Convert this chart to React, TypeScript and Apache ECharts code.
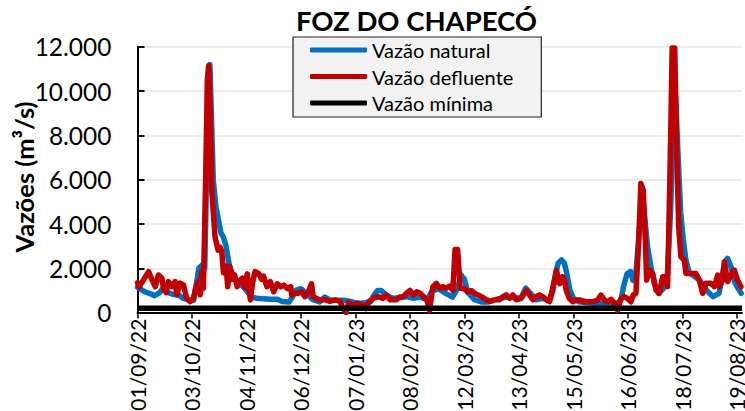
import React, { useEffect, useRef } from "react";
import * as echarts from "echarts";

// Day index counted from 01/09/22
const xTickLabels = [
  "01/09/22", "03/10/22", "04/11/22", "06/12/22", "07/01/23", "08/02/23",
  "12/03/23", "13/04/23", "15/05/23", "16/06/23", "18/07/23", "19/08/23",
];
const yTickValues = [0, 2000, 4000, 6000, 8000, 10000, 12000];
const yTickLabels = ["0", "2.000", "4.000", "6.000", "8.000", "10.000", "12.000"];

const seriesNames = ["Vazão natural", "Vazão defluente", "Vazão mínima"];

const vazaoNatural: [number, number][] = [
  [0,1150],[2,1050],[4,950],[7,870],[10,760],[13,900],[15,1100],[18,900],[21,820],[24,800],
  [27,640],[30,570],[33,560],[35,1500],[36,2000],[38,2150],[39.5,2000],[41,8000],[42.5,11200],
  [44.5,6000],[46,4800],[47.5,4200],[49,3600],[50.5,3400],[52,3000],[54,2100],[56,1700],
  [58,1470],[60,1300],[62,1170],[64,1000],[66,800],[68,680],[70,650],[74,620],[78,600],
  [82,600],[85,500],[89,480],[91,700],[93,1000],[96,1080],[98,950],[100,800],[103,580],
  [107,480],[110,700],[113,560],[117,560],[121,560],[125,500],[128,450],[131,420],[134,450],
  [137,500],[139,800],[141,1000],[143,1000],[146,800],[150,640],[154,680],[158,720],[162,650],
  [166,700],[170,580],[173,980],[177,1070],[181,870],[185,700],[188,1100],[190,1700],[192,1500],
  [194,900],[198,580],[202,480],[206,480],[209,560],[213,640],[217,700],[221,700],[225,640],
  [228,1100],[231,850],[234,580],[238,640],[242,560],[244,1000],[245.5,1700],[247,2230],
  [249,2380],[250.7,2230],[252,1800],[254,1000],[256,640],[259,490],[263,450],[268,420],
  [273,420],[278,420],[282,430],[284,600],[285.5,1200],[287.5,1750],[289.5,1850],[291,1450],
  [292.5,1600],[294.5,3500],[296.5,5400],[298,4200],[299.5,3000],[301.5,2070],[303.5,1320],
  [306,870],[309,1100],[311,1450],[313,4500],[315,9000],[316,9800],[317.5,7000],[319,4500],
  [320.5,3300],[322,2400],[324,1800],[326,1700],[330,1470],[334,1020],[338,720],[341.5,870],
  [343.5,1700],[345,2300],[346.5,2450],[348.5,2070],[351,1320],[354.5,870],
];

const vazaoDefluente: [number, number][] = [
  [0,1350],[1,1150],[2.5,1350],[4.5,1600],[6.5,1850],[8.4,1500],[10.4,1170],[12.3,1700],
  [14.3,1550],[15.3,1100],[16.8,900],[18.2,1400],[20.1,1170],[22.1,1400],[23.1,800],[25,1330],
  [27,1250],[28.9,640],[30.9,500],[32.8,640],[34.4,1170],[35.8,1400],[36.8,800],[37.7,1850],
  [38.7,1100],[40,6000],[41,10500],[41.8,11150],[42.6,9500],[43.6,5500],[45.5,3430],[47.3,2820],
  [48.5,2950],[49.5,2750],[50.5,1800],[52,2100],[53,1170],[54.3,2070],[55.5,1500],[57,1700],
  [58.5,1170],[60,1450],[61.5,1550],[63,1150],[64.5,1750],[65.5,1000],[66.3,570],[67.5,1300],
  [69,1850],[71,1780],[73,1500],[74,1650],[76,1170],[78,1400],[80,940],[82,1300],[84,1170],
  [86,1240],[88,1090],[90,1170],[90.5,800],[92.4,870],[94.4,870],[96.3,940],[98.3,720],
  [100.3,940],[102.2,1300],[103.2,720],[105,640],[107,580],[110,580],[113,500],[116,580],
  [119,500],[121,150],[122.5,0],[124,450],[127,300],[129,420],[132,350],[134,180],[136,500],
  [138.4,640],[141.3,720],[144.2,640],[146.2,800],[148.2,580],[152,580],[154,700],[156,720],
  [158,870],[160,1000],[162,790],[164,940],[166,870],[168,720],[170,580],[171.5,100],[172.5,645],
  [173.5,1170],[175.5,1320],[177.5,1100],[179.4,1170],[181.3,1100],[183.3,1200],[185.2,1000],
  [186.5,2850],[188,2850],[189.5,1100],[192,1070],[194,940],[196,1000],[198,870],[200,800],
  [202,720],[205,580],[207,500],[210,580],[212.6,580],[214.6,720],[216.5,800],[218.5,645],
  [220.4,800],[222.4,580],[225.3,645],[228.3,1000],[230.2,800],[232.2,580],[234.1,720],
  [236.1,800],[238.1,720],[240,580],[242,500],[244,1170],[246,1900],[248,1300],[249.7,1620],
  [250.7,1470],[251.7,1020],[253.6,640],[255.6,490],[257.5,570],[259.5,570],[263.4,490],
  [267.3,490],[270.2,570],[272.2,790],[274.2,570],[276.1,490],[278.1,600],[280,420],[282,100],
  [283.9,640],[285.9,720],[287.8,640],[289.8,490],[291.1,790],[292.7,870],[294.2,3000],
  [295.6,5830],[297,5530],[298.2,3270],[299,1470],[300.5,1920],[302.5,1770],[304.5,1020],
  [306.4,870],[308.4,1620],[310,1620],[311.3,1170],[312.7,6300],[314,11950],[315.5,11950],
  [316.5,7800],[317.8,3880],[319.1,2520],[321.1,2370],[322.1,1770],[324,1770],[326,1770],
  [327.9,1770],[329.9,1470],[331.9,870],[333.8,1320],[336.8,1320],[338.7,1170],[340.7,1690],
  [341.7,1170],[343.6,1470],[344.6,2300],[346.6,1400],[348.5,1690],[350.5,1920],[352.4,1470],
  [354.4,1170],
];

const vazaoMinima: [number, number][] = [
  [0, 200],
  [355, 200],
];

const FONT = "Lato";

export default function App() {
  const ref = useRef<HTMLDivElement>(null);
  useEffect(() => {
    if (!ref.current) return;
    const chart = echarts.init(ref.current, null, { renderer: "svg" });
    chart.setOption({
      animation: false,
      backgroundColor: "#ffffff",
      textStyle: { fontFamily: FONT },
      graphic: [
        {
          type: "text",
          x: 416.5,
          y: 20.5,
          style: {
            text: "FOZ DO CHAPECÓ",
            fontFamily: FONT,
            fontWeight: "bold",
            fontSize: 27.5,
            fill: "#000",
            align: "center",
            verticalAlign: "middle",
          },
        },
        {
          type: "text",
          x: 24,
          y: 177,
          rotation: Math.PI / 2,
          style: {
            text: "Vazões (m³/s)",
            fontFamily: FONT,
            fontWeight: "bold",
            fontSize: 25.5,
            fill: "#000",
            align: "center",
            verticalAlign: "middle",
          },
        },
      ],
      legend: {
        left: 293,
        top: 37,
        orient: "vertical",
        backgroundColor: "#f2f2f2",
        borderColor: "#222",
        borderWidth: 1.2,
        padding: [3, 28, 4, 17],
        itemGap: 6.5,
        itemWidth: 57,
        itemHeight: 5,
        icon: "roundRect",
        textStyle: { fontSize: 20, fontFamily: FONT, color: "#000", lineHeight: 20 },
        data: seriesNames,
      },
      grid: {
        left: 137.5,
        right: 3,
        top: 46.8,
        bottom: 98.4,
        containLabel: false,
        outerBoundsMode: "none",
      },
      xAxis: {
        type: "value",
        min: 0,
        max: 355,
        interval: 32,
        splitLine: { show: false },
        axisLine: { lineStyle: { color: "#000", width: 2 } },
        axisTick: { show: true, length: 6, lineStyle: { color: "#000", width: 1.5 } },
        axisLabel: {
          rotate: 90,
          fontSize: 21,
          fontFamily: FONT,
          color: "#000",
          margin: 6,
          showMaxLabel: false,
          formatter: (v: number) => (v % 32 === 0 ? xTickLabels[v / 32] ?? "" : ""),
        },
      },
      yAxis: {
        type: "value",
        min: 0,
        max: 12000,
        interval: 2000,
        axisLine: { show: true, lineStyle: { color: "#000", width: 2 } },
        axisTick: { show: true, inside: true, length: 7, lineStyle: { color: "#000", width: 2 } },
        splitLine: { show: true, lineStyle: { color: "#e6e6e6", width: 1.5 } },
        axisLabel: {
          fontSize: 24.5,
          fontFamily: FONT,
          color: "#000",
          margin: 26,
          formatter: (v: number) => {
            const i = yTickValues.indexOf(v);
            return i >= 0 ? yTickLabels[i] : "";
          },
        },
      },
      series: [
        {
          name: seriesNames[0],
          type: "line",
          data: vazaoNatural,
          showSymbol: false,
          symbol: "none",
          color: "#0070c0",
          lineStyle: { width: 5.5, color: "#0070c0", cap: "round", join: "round" },
          z: 2,
        },
        {
          name: seriesNames[1],
          type: "line",
          data: vazaoDefluente,
          showSymbol: false,
          symbol: "none",
          color: "#c00000",
          lineStyle: { width: 5.5, color: "#c00000", cap: "round", join: "round" },
          z: 3,
        },
        {
          name: seriesNames[2],
          type: "line",
          data: vazaoMinima,
          showSymbol: false,
          symbol: "none",
          color: "#000000",
          lineStyle: { width: 5.5, color: "#000000" },
          z: 4,
        },
      ],
    });
    return () => chart.dispose();
  }, []);
  return (
    <div
      ref={ref}
      style={{ position: "fixed", left: 0, top: 0, width: 745, height: 411 }}
    />
  );
}
